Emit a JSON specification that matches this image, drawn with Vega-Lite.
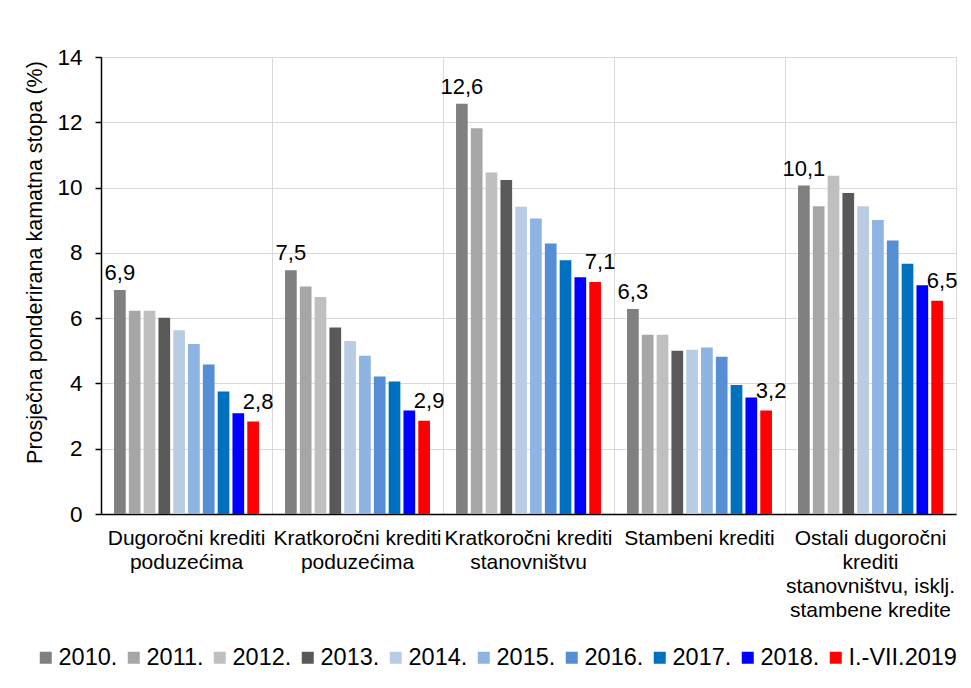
{
  "$schema": "https://vega.github.io/schema/vega-lite/v6.json",
  "width": 855,
  "height": 457,
  "autosize": "none",
  "padding": {"left": 101, "top": 57, "right": 15, "bottom": 174},
  "background": "white",
  "config": {
    "font": "Liberation Sans",
    "view": {"stroke": "#D9D9D9", "strokeWidth": 1},
    "locale": {"number": {"decimal": ",", "thousands": ".", "grouping": [3], "currency": ["", ""]}},
    "axis": {"labelFont": "Liberation Sans", "titleFont": "Liberation Sans", "labelColor": "black", "titleColor": "black"}
  },
  "data": {
    "values": [
      {"kategorija": "Dugoročni krediti poduzećima", "godina": "2010.", "stopa": 6.86},
      {"kategorija": "Dugoročni krediti poduzećima", "godina": "2011.", "stopa": 6.23},
      {"kategorija": "Dugoročni krediti poduzećima", "godina": "2012.", "stopa": 6.23},
      {"kategorija": "Dugoročni krediti poduzećima", "godina": "2013.", "stopa": 6.01},
      {"kategorija": "Dugoročni krediti poduzećima", "godina": "2014.", "stopa": 5.63},
      {"kategorija": "Dugoročni krediti poduzećima", "godina": "2015.", "stopa": 5.21},
      {"kategorija": "Dugoročni krediti poduzećima", "godina": "2016.", "stopa": 4.58},
      {"kategorija": "Dugoročni krediti poduzećima", "godina": "2017.", "stopa": 3.75},
      {"kategorija": "Dugoročni krediti poduzećima", "godina": "2018.", "stopa": 3.09},
      {"kategorija": "Dugoročni krediti poduzećima", "godina": "I.-VII.2019", "stopa": 2.83},
      {"kategorija": "Kratkoročni krediti poduzećima", "godina": "2010.", "stopa": 7.47},
      {"kategorija": "Kratkoročni krediti poduzećima", "godina": "2011.", "stopa": 6.97},
      {"kategorija": "Kratkoročni krediti poduzećima", "godina": "2012.", "stopa": 6.65},
      {"kategorija": "Kratkoročni krediti poduzećima", "godina": "2013.", "stopa": 5.71},
      {"kategorija": "Kratkoročni krediti poduzećima", "godina": "2014.", "stopa": 5.30},
      {"kategorija": "Kratkoročni krediti poduzećima", "godina": "2015.", "stopa": 4.85},
      {"kategorija": "Kratkoročni krediti poduzećima", "godina": "2016.", "stopa": 4.21},
      {"kategorija": "Kratkoročni krediti poduzećima", "godina": "2017.", "stopa": 4.06},
      {"kategorija": "Kratkoročni krediti poduzećima", "godina": "2018.", "stopa": 3.17},
      {"kategorija": "Kratkoročni krediti poduzećima", "godina": "I.-VII.2019", "stopa": 2.86},
      {"kategorija": "Kratkoročni krediti stanovništvu", "godina": "2010.", "stopa": 12.57},
      {"kategorija": "Kratkoročni krediti stanovništvu", "godina": "2011.", "stopa": 11.82},
      {"kategorija": "Kratkoročni krediti stanovništvu", "godina": "2012.", "stopa": 10.46},
      {"kategorija": "Kratkoročni krediti stanovništvu", "godina": "2013.", "stopa": 10.23},
      {"kategorija": "Kratkoročni krediti stanovništvu", "godina": "2014.", "stopa": 9.41},
      {"kategorija": "Kratkoročni krediti stanovništvu", "godina": "2015.", "stopa": 9.05},
      {"kategorija": "Kratkoročni krediti stanovništvu", "godina": "2016.", "stopa": 8.29},
      {"kategorija": "Kratkoročni krediti stanovništvu", "godina": "2017.", "stopa": 7.77},
      {"kategorija": "Kratkoročni krediti stanovništvu", "godina": "2018.", "stopa": 7.25},
      {"kategorija": "Kratkoročni krediti stanovništvu", "godina": "I.-VII.2019", "stopa": 7.11},
      {"kategorija": "Stambeni krediti", "godina": "2010.", "stopa": 6.28},
      {"kategorija": "Stambeni krediti", "godina": "2011.", "stopa": 5.49},
      {"kategorija": "Stambeni krediti", "godina": "2012.", "stopa": 5.49},
      {"kategorija": "Stambeni krediti", "godina": "2013.", "stopa": 5.00},
      {"kategorija": "Stambeni krediti", "godina": "2014.", "stopa": 5.03},
      {"kategorija": "Stambeni krediti", "godina": "2015.", "stopa": 5.10},
      {"kategorija": "Stambeni krediti", "godina": "2016.", "stopa": 4.82},
      {"kategorija": "Stambeni krediti", "godina": "2017.", "stopa": 3.95},
      {"kategorija": "Stambeni krediti", "godina": "2018.", "stopa": 3.57},
      {"kategorija": "Stambeni krediti", "godina": "I.-VII.2019", "stopa": 3.17},
      {"kategorija": "Ostali dugoročni krediti stanovništvu, isklj. stambene kredite", "godina": "2010.", "stopa": 10.06},
      {"kategorija": "Ostali dugoročni krediti stanovništvu, isklj. stambene kredite", "godina": "2011.", "stopa": 9.43},
      {"kategorija": "Ostali dugoročni krediti stanovništvu, isklj. stambene kredite", "godina": "2012.", "stopa": 10.36},
      {"kategorija": "Ostali dugoročni krediti stanovništvu, isklj. stambene kredite", "godina": "2013.", "stopa": 9.83},
      {"kategorija": "Ostali dugoročni krediti stanovništvu, isklj. stambene kredite", "godina": "2014.", "stopa": 9.43},
      {"kategorija": "Ostali dugoročni krediti stanovništvu, isklj. stambene kredite", "godina": "2015.", "stopa": 9.01},
      {"kategorija": "Ostali dugoročni krediti stanovništvu, isklj. stambene kredite", "godina": "2016.", "stopa": 8.38},
      {"kategorija": "Ostali dugoročni krediti stanovništvu, isklj. stambene kredite", "godina": "2017.", "stopa": 7.67},
      {"kategorija": "Ostali dugoročni krediti stanovništvu, isklj. stambene kredite", "godina": "2018.", "stopa": 7.01},
      {"kategorija": "Ostali dugoročni krediti stanovništvu, isklj. stambene kredite", "godina": "I.-VII.2019", "stopa": 6.53}
    ]
  },
  "encoding": {
    "x": {
      "field": "kategorija",
      "type": "nominal",
      "sort": null,
      "scale": {"paddingInner": 0, "paddingOuter": 0},
      "axis": {
        "title": null,
        "labelAngle": 0,
        "labelFontSize": 21,
        "labelLimit": 0,
        "labelLineHeight": 24,
        "labelPadding": 13,
        "labelBaseline": "top",
        "ticks": false,
        "domainColor": "black",
        "domainWidth": 1.5,
        "grid": true,
        "bandPosition": 0,
        "gridColor": "#D9D9D9",
        "gridWidth": 1,
        "labelExpr": "datum.value == 'Dugoročni krediti poduzećima' ? ['Dugoročni krediti', 'poduzećima'] : datum.value == 'Kratkoročni krediti poduzećima' ? ['Kratkoročni krediti', 'poduzećima'] : datum.value == 'Kratkoročni krediti stanovništvu' ? ['Kratkoročni krediti', 'stanovništvu'] : datum.value == 'Stambeni krediti' ? 'Stambeni krediti' : ['Ostali dugoročni', 'krediti', 'stanovništvu, isklj.', 'stambene kredite']"
      }
    },
    "xOffset": {
      "field": "godina",
      "type": "nominal",
      "sort": null,
      "scale": {"paddingInner": 0.21, "paddingOuter": 0.88}
    },
    "y": {
      "field": "stopa",
      "type": "quantitative",
      "scale": {"domain": [0, 14], "nice": false},
      "axis": {
        "title": "Prosječna ponderirana kamatna stopa (%)",
        "titleFontSize": 21.5,
        "titleFontWeight": "normal",
        "titlePadding": 10,
        "titleY": 205,
        "values": [0, 2, 4, 6, 8, 10, 12, 14],
        "labelFontSize": 22.5,
        "labelPadding": 13,
        "tickColor": "black",
        "tickSize": 6,
        "tickWidth": 1.5,
        "domainColor": "black",
        "domainWidth": 1.5,
        "gridColor": "#D9D9D9",
        "gridWidth": 1
      }
    }
  },
  "layer": [
    {
      "mark": {"type": "bar"},
      "encoding": {
        "color": {
          "field": "godina",
          "type": "nominal",
          "sort": null,
          "scale": {
            "domain": ["2010.", "2011.", "2012.", "2013.", "2014.", "2015.", "2016.", "2017.", "2018.", "I.-VII.2019"],
            "range": ["#808080", "#A6A6A6", "#BFBFBF", "#595959", "#B8CCE4", "#8EB4E3", "#558ED5", "#0070C0", "#0000FF", "#FF0000"]
          },
          "legend": {
            "title": null,
            "orient": "none",
            "legendX": -67,
            "legendY": 589,
            "direction": "horizontal",
            "columns": 10,
            "gridAlign": "none",
            "symbolType": "square",
            "symbolSize": 144,
            "symbolStrokeWidth": 0,
            "labelFontSize": 23.5,
            "labelFont": "Liberation Sans",
            "labelColor": "black",
            "labelOffset": 1,
            "columnPadding": 4,
            "labelLimit": 0
          }
        }
      }
    },
    {
      "transform": [{"filter": "datum.godina == '2010.'"}],
      "mark": {"type": "text", "fontSize": 22, "baseline": "middle", "dy": -17, "color": "black"},
      "encoding": {"text": {"field": "stopa", "type": "quantitative", "format": ".1f"}}
    },
    {
      "transform": [{"filter": "datum.godina == 'I.-VII.2019'"}],
      "mark": {"type": "text", "fontSize": 22, "baseline": "middle", "dy": -20, "dx": 5, "color": "black"},
      "encoding": {"text": {"field": "stopa", "type": "quantitative", "format": ".1f"}}
    }
  ]
}
